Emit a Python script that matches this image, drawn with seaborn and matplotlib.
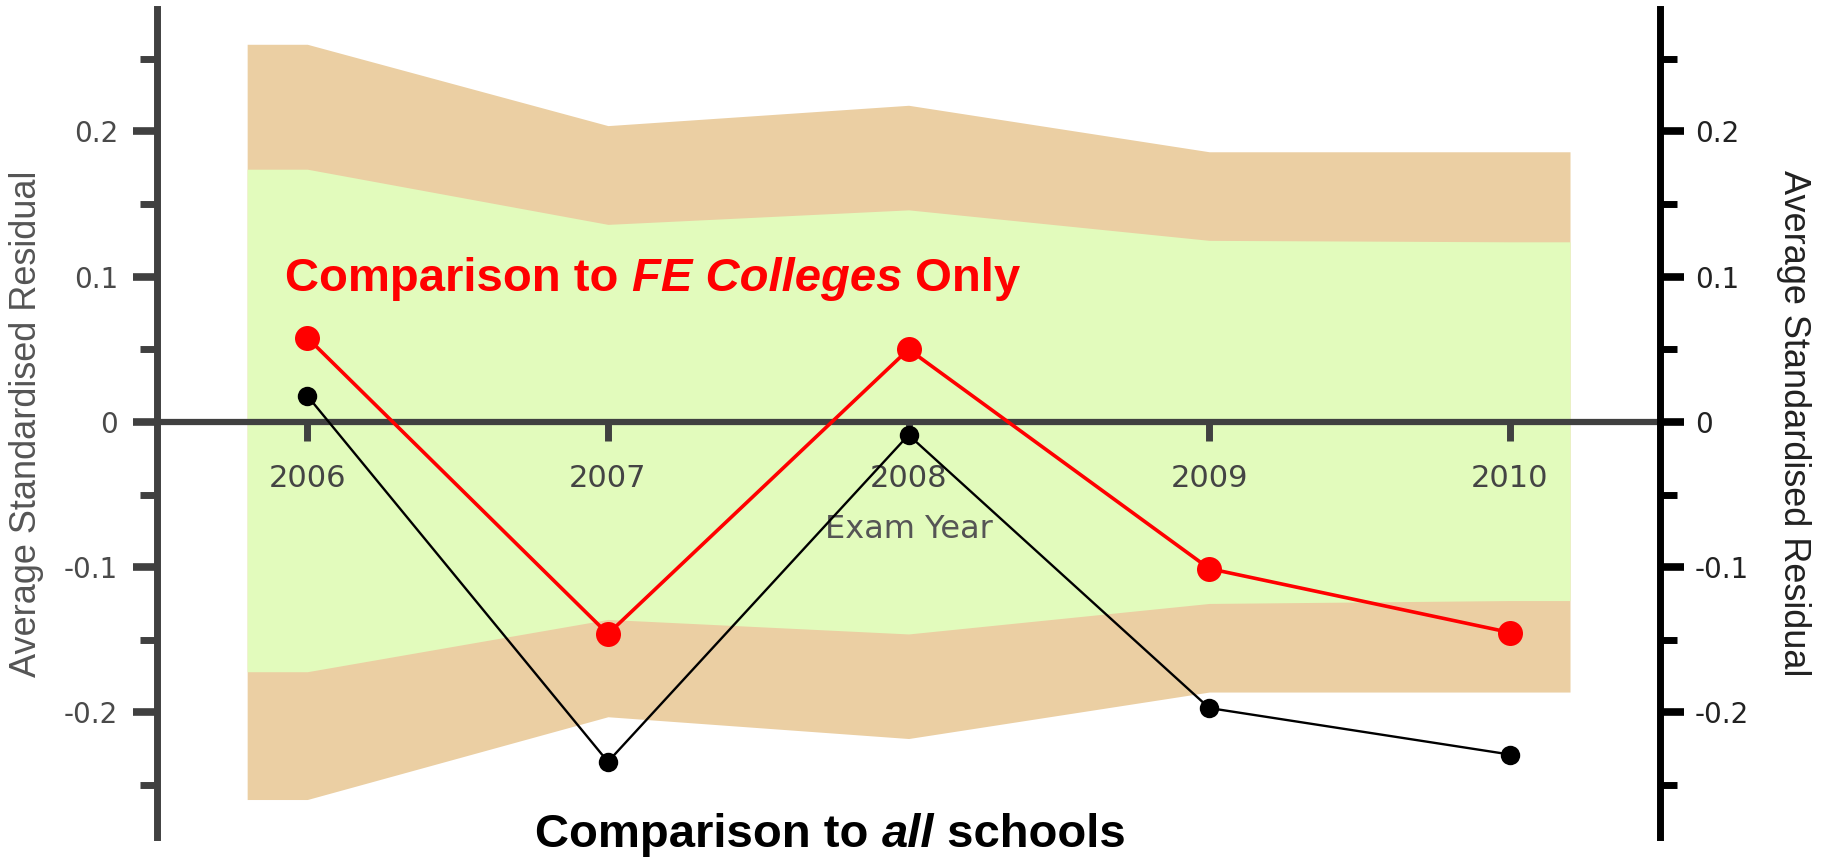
import numpy as np
import pandas as pd
import seaborn as sns
import matplotlib.pyplot as plt

years = [2006, 2007, 2008, 2009, 2010]
fe_colleges = [0.058, -0.146, 0.050, -0.101, -0.145]
all_schools = [0.018, -0.234, -0.009, -0.197, -0.229]

# confidence bands (outer = tan, inner = green)
outer_upper = [0.260, 0.204, 0.218, 0.186, 0.186]
outer_lower = [-0.260, -0.203, -0.218, -0.186, -0.186]
inner_upper = [0.174, 0.136, 0.146, 0.125, 0.124]
inner_lower = [-0.172, -0.136, -0.146, -0.125, -0.123]

ytick_vals = [-0.2, -0.1, 0, 0.1, 0.2]
ytick_labels = ['-0.2', '-0.1', '0', '0.1', '0.2']
yminor_vals = [-0.25, -0.15, -0.05, 0.05, 0.15, 0.25]

sns.set_style('white')
plt.rcParams['font.family'] = ['DejaVu Sans']

fig = plt.figure(figsize=(18.23, 8.57), dpi=100)
ax = fig.add_axes([0.0861, 0.023, 0.8246, 0.966])
ax.set_axisbelow(False)

# bands stretch a little past first/last year
bx = np.r_[years[0] - 0.2, years, years[-1] + 0.2]
def pad(v):
    return np.r_[v[0], v, v[-1]]

ax.fill_between(bx, pad(outer_lower), pad(outer_upper), color='#ebcfa3', lw=0, zorder=1)
ax.fill_between(bx, pad(inner_lower), pad(inner_upper), color='#e2fbbc', lw=0, zorder=1.1)

df = pd.DataFrame({'year': years, 'fe': fe_colleges, 'all': all_schools})
sns.lineplot(data=df, x='year', y='all', ax=ax, color='black', lw=1.7,
             marker='o', markersize=14, markeredgewidth=0, zorder=3)
sns.lineplot(data=df, x='year', y='fe', ax=ax, color='#ff0000', lw=2.6,
             marker='o', markersize=18, markeredgewidth=0, zorder=4)

ax.set_xlim(2005.5, 2010.5)
ax.set_ylim(-0.286, 0.284)

for s in ['top', 'right']:
    ax.spines[s].set_visible(False)
ax.spines['left'].set_color('#404040')
ax.spines['left'].set_linewidth(5)
ax.spines['bottom'].set_position(('data', 0))
ax.spines['bottom'].set_color('#404040')
ax.spines['bottom'].set_linewidth(4.5)
ax.spines['bottom'].set_zorder(2.5)

ax.set_xticks(years)
ax.set_xticklabels([str(y) for y in years])
ax.tick_params(axis='x', direction='out', length=14, width=5, color='#404040',
               labelsize=22, labelcolor='#444444', pad=16, bottom=True)

ax.set_yticks(ytick_vals)
ax.set_yticklabels(ytick_labels)
ax.set_yticks(yminor_vals, minor=True)
ax.tick_params(axis='y', which='major', direction='out', length=17, width=5.5,
               color='#404040', labelsize=20, labelcolor='#4a4a4a', pad=11, left=True)
ax.tick_params(axis='y', which='minor', direction='out', length=12, width=5,
               color='#404040', left=True)

ax.set_xlabel('Exam Year', fontsize=23, color='#555555', va='center')
ax.xaxis.set_label_coords(0.5, 0.372)
ax.set_ylabel('Average Standardised Residual', fontsize=26, color='#555555',
              family=['Liberation Sans', 'DejaVu Sans'], va='center')
ax.yaxis.set_label_coords(-0.087, 0.5)

ax2 = ax.twinx()
ax2.set_ylim(ax.get_ylim())
for s in ['top', 'left', 'bottom']:
    ax2.spines[s].set_visible(False)
ax2.spines['right'].set_color('black')
ax2.spines['right'].set_linewidth(5)
ax2.set_yticks(ytick_vals)
ax2.set_yticklabels(ytick_labels)
ax2.set_yticks(yminor_vals, minor=True)
ax2.tick_params(axis='y', which='major', direction='out', length=17, width=5.5,
                color='black', labelsize=20, labelcolor='#222222', pad=8, right=True)
ax2.tick_params(axis='y', which='minor', direction='out', length=12, width=5,
                color='black', right=True)
ax2.set_ylabel('Average Standardised Residual', fontsize=26, color='#222222',
               family=['Liberation Sans', 'DejaVu Sans'], rotation=270, va='center')
ax2.yaxis.set_label_coords(1.089, 0.5)
ax2.grid(False)

# mixed bold / bold-italic annotations, pieces chained side by side
def chain_text(x, y, parts, color):
    font = ['Liberation Sans', 'DejaVu Sans']
    prev = None
    for txt, style in parts:
        if prev is None:
            prev = ax.text(x, y, txt, color=color, fontsize=34, fontweight='bold',
                           fontstyle=style, family=font, va='baseline', ha='left',
                           zorder=6, clip_on=False)
        else:
            prev = ax.annotate(txt, xy=(1, 0), xycoords=prev, color=color, fontsize=34,
                               fontweight='bold', fontstyle=style, family=font,
                               va='bottom', ha='left', zorder=6, annotation_clip=False)

chain_text(2005.927, 0.090, [('Comparison to ', 'normal'), ('FE Colleges', 'italic'),
                             (' Only', 'normal')], '#ff0000')
chain_text(2006.757, -0.2925, [('Comparison to ', 'normal'), ('all', 'italic'),
                               (' schools', 'normal')], 'black')

fig.savefig('out.png', dpi=100)
